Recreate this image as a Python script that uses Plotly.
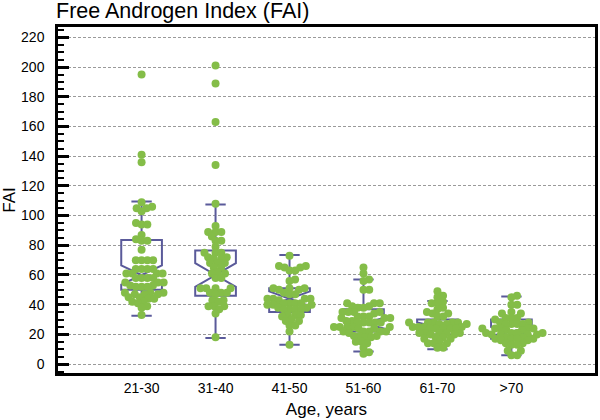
import math
import plotly.graph_objects as go

# ---- data ----
categories = ["21-30", "31-40", "41-50", "51-60", "61-70", ">70"]

g_21_30 = [195, 141, 136, 109, 106, 105, 105, 103, 95, 94, 94, 87, 84, 83, 83, 77,
           70, 70, 70, 70, 64, 64, 64, 64, 61, 61, 61, 61, 58, 58, 58, 58, 55, 55, 55,
           53, 53, 52, 52, 52, 48, 48, 48, 47, 47, 47, 45, 45, 44, 44, 42, 42, 41, 39, 38, 33]
g_31_40 = [201, 189, 163, 134, 108, 93, 89, 89, 89, 86, 83, 83, 79, 75, 75, 75, 72, 72,
           71, 71, 68, 68, 68, 65, 65, 62, 61, 61, 58, 58, 51, 51, 51, 51, 48, 48, 48, 47,
           43, 43, 42, 39, 39, 39, 37, 34, 18]
g_41_50 = [73, 66, 66, 65, 65, 63, 63, 57, 56, 51, 51, 51, 50, 50, 48, 47, 47, 44, 44, 44,
           44, 43, 41, 41, 41, 41, 40, 40, 40, 38, 38, 37, 37, 37, 37, 33, 33, 33, 32, 30,
           29, 29, 26, 26, 22, 13]
g_51_60 = [65, 61, 57, 56, 50, 50, 41, 41, 41, 39, 39, 38, 38, 35, 35, 35, 35, 34, 32, 32,
           32, 31, 31, 31, 29, 29, 28, 28, 28, 28, 28, 25, 25, 25, 25, 25, 24, 24, 22, 22,
           22, 22, 22, 21, 19, 19, 19, 18, 18, 15, 15, 14, 11, 8, 7]
g_61_70 = [49, 46, 45, 42, 41, 41, 38, 37, 35, 34, 34, 32, 32, 28, 28, 28, 28, 28, 27, 27,
           27, 25, 25, 25, 25, 24, 24, 24, 24, 24, 21, 21, 21, 21, 21, 20, 20, 18, 18, 17,
           17, 15, 14, 14, 14, 11, 11]
g_over_70 = [46, 45, 40, 40, 35, 34, 34, 31, 31, 31, 30, 28, 28, 27, 27, 27, 27, 24, 24,
             24, 24, 24, 23, 23, 21, 21, 21, 21, 20, 20, 20, 20, 18, 18, 17, 17, 17, 17,
             16, 16, 14, 14, 13, 13, 9, 9, 6, 6]
groups = [g_21_30, g_31_40, g_41_50, g_51_60, g_61_70, g_over_70]

# box statistics as drawn in the reference
q1 = [50, 46, 35, 22, 20, 17]
median = [60, 60, 44, 27.5, 25, 22]
q3 = [83.5, 76.5, 51, 37, 30, 30]
lowerfence = [32.5, 17.5, 13, 8.5, 10, 6]
upperfence = [109.5, 107.5, 73.5, 57, 42.5, 45.5]
notchspan = [6.5, 8, 5, 3.5, 3, 3]

y_ticks = list(range(0, 221, 20))

# ---- style / layout constants ----
W, H = 600, 420
M_L, M_R, M_T, M_B = 58, 2, 27, 47
X_RANGE = [-1.13, 6.13]
Y_RANGE = [-6, 227]
DOT = 8
SWARM_D = 5.8
GREEN = "#84bd48"
BOXC = "#5a5a9a"

px_x = (W - M_L - M_R) / (X_RANGE[1] - X_RANGE[0])
px_y = (H - M_T - M_B) / (Y_RANGE[1] - Y_RANGE[0])


def swarm(vals, d=SWARM_D):
    order = sorted(range(len(vals)), key=lambda i: vals[i])
    placed = []
    offs = [0.0] * len(vals)
    for i in order:
        y = vals[i] * px_y
        cands = [0.0]
        for (px, py) in placed:
            dy = abs(py - y)
            if dy < d:
                dx = math.sqrt(d * d - dy * dy)
                cands += [px + dx, px - dx]
        cands.sort(key=abs)
        chosen = 0.0
        for c in cands:
            if all((c - px) ** 2 + (y - py) ** 2 >= d * d - 1e-6 for px, py in placed):
                chosen = c
                break
        placed.append((chosen, y))
        offs[i] = chosen / px_x
    return offs


fig = go.Figure()

fig.add_trace(go.Box(
    x=list(range(len(categories))),
    q1=q1, median=median, q3=q3,
    lowerfence=lowerfence, upperfence=upperfence,
    notchspan=notchspan, notched=True, notchwidth=0.5,
    boxpoints=False, width=0.55, whiskerwidth=0.5,
    line=dict(color=BOXC, width=2),
    fillcolor="rgba(0,0,0,0)",
    showlegend=False, hoverinfo="skip",
))

xs, ys = [], []
for gi, vals in enumerate(groups):
    offs = swarm(vals)
    xs += [gi + o for o in offs]
    ys += vals

fig.add_trace(go.Scatter(
    x=xs, y=ys, mode="markers",
    marker=dict(color=GREEN, size=DOT, line=dict(width=0)),
    showlegend=False, hoverinfo="skip",
))

font = "Liberation Sans, Arial, Helvetica, sans-serif"

fig.update_layout(
    width=W, height=H,
    margin=dict(l=M_L, r=M_R, t=M_T, b=M_B),
    paper_bgcolor="white", plot_bgcolor="white",
    font=dict(family=font, size=13, color="black"),
    title=dict(text="Free Androgen Index (FAI)", x=56 / W, xanchor="left",
               xref="container", y=1.0, yref="container", yanchor="top",
               pad=dict(t=3, l=0),
               font=dict(size=21.5, family=font, color="black")),
    xaxis=dict(
        range=X_RANGE, tickvals=list(range(len(categories))), ticktext=categories,
        ticks="", showgrid=False, zeroline=False,
        showline=True, mirror=True, linecolor="black", linewidth=2.5,
        title=dict(text="Age, years", font=dict(size=17), standoff=9),
        tickfont=dict(size=14),
    ),
    yaxis=dict(
        range=Y_RANGE, tickvals=y_ticks, ticks="inside", ticklen=11, tickwidth=2.5,
        tickcolor="black", ticklabelstandoff=8,
        showgrid=True, gridcolor="#9a9a9a", gridwidth=1, griddash="3px,2px",
        zeroline=False, showline=True, mirror=True, linecolor="black", linewidth=2.5,
        minor=dict(dtick=5, tick0=0, ticks="inside", ticklen=6, tickwidth=2,
                   tickcolor="black", showgrid=False),
        title=dict(text="FAI", font=dict(size=17), standoff=5),
        tickfont=dict(size=14),
    ),
)

fig.write_html("out.html", config={"displayModeBar": False},
               post_script="document.body.style.margin='0';")
